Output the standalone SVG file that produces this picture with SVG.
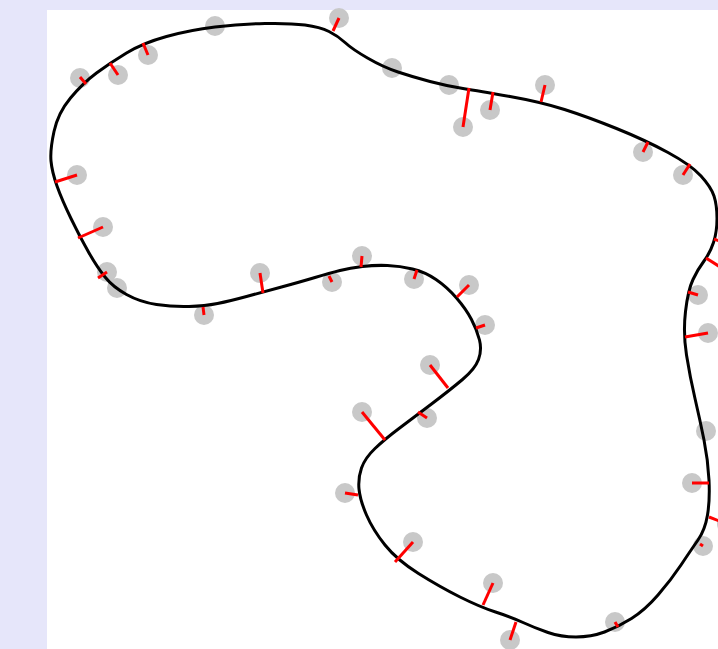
<svg xmlns="http://www.w3.org/2000/svg" width="718" height="649" viewBox="0 0 718 649">
<style>
.pt{fill:#c8c8c8;stroke:none}
.ln{stroke:#ff0000;stroke-width:3;stroke-linecap:butt;fill:none}
.curve{fill:none;stroke:#000;stroke-width:3;stroke-linejoin:round}
</style>
<defs><circle id="dot" r="10" class="pt"/></defs>
<rect width="718" height="649" fill="#e6e6fa"/>
<rect x="47" y="10" width="680" height="650" fill="#fff"/>
<g id="points">
<g id="p1"><use href="#dot" x="215" y="26"/></g>
<g id="p2"><use href="#dot" x="148" y="55"/></g>
<g id="p3"><use href="#dot" x="118" y="75"/></g>
<g id="p4"><use href="#dot" x="80" y="78"/></g>
<g id="p5"><use href="#dot" x="77" y="175"/></g>
<g id="p6"><use href="#dot" x="103" y="227"/></g>
<g id="p7"><use href="#dot" x="107" y="272"/></g>
<g id="p8"><use href="#dot" x="117" y="288"/></g>
<g id="p9"><use href="#dot" x="204" y="315"/></g>
<g id="p10"><use href="#dot" x="260" y="273"/></g>
<g id="p11"><use href="#dot" x="332" y="282"/></g>
<g id="p12"><use href="#dot" x="362" y="256"/></g>
<g id="p13"><use href="#dot" x="414" y="279"/></g>
<g id="p14"><use href="#dot" x="469" y="285"/></g>
<g id="p15"><use href="#dot" x="485" y="325"/></g>
<g id="p16"><use href="#dot" x="430" y="365"/></g>
<g id="p17"><use href="#dot" x="362" y="412"/></g>
<g id="p18"><use href="#dot" x="427" y="418"/></g>
<g id="p19"><use href="#dot" x="345" y="493"/></g>
<g id="p20"><use href="#dot" x="413" y="542"/></g>
<g id="p21"><use href="#dot" x="493" y="583"/></g>
<g id="p22"><use href="#dot" x="510" y="640"/></g>
<g id="p23"><use href="#dot" x="615" y="622"/></g>
<g id="p24"><use href="#dot" x="703" y="546"/></g>
<g id="p25"><use href="#dot" x="727" y="524"/></g>
<g id="p26"><use href="#dot" x="692" y="483"/></g>
<g id="p27"><use href="#dot" x="706" y="431"/></g>
<g id="p28"><use href="#dot" x="708" y="333"/></g>
<g id="p29"><use href="#dot" x="698" y="295"/></g>
<g id="p30"><use href="#dot" x="728" y="272"/></g>
<g id="p31"><use href="#dot" x="730" y="245"/></g>
<g id="p32"><use href="#dot" x="683" y="175"/></g>
<g id="p33"><use href="#dot" x="643" y="152"/></g>
<g id="p34"><use href="#dot" x="545" y="85"/></g>
<g id="p35"><use href="#dot" x="490" y="110"/></g>
<g id="p36"><use href="#dot" x="463" y="127"/></g>
<g id="p37"><use href="#dot" x="449" y="85"/></g>
<g id="p38"><use href="#dot" x="392" y="68"/></g>
<g id="p39"><use href="#dot" x="339" y="18"/></g>
</g>
<g id="shape">
<path class="curve" d="M54,131.5 Q58,113 70.5,98 Q83,83 96.5,73 Q110,63 126.5,53 Q143,43 166.5,36.5 Q190,30 215,27 Q240,24 265,23.5 Q290,23 305,25 Q320,27 329,31.5 Q338,36 345,42.5 Q352,49 367.5,58 Q383,67 398,72 Q413,77 430,81.5 Q447,86 463,88.5 Q479,91 510,96.5 Q541,102 564.5,109.5 Q588,117 616.5,128.5 Q645,140 668,152.5 Q691,165 701,176 Q711,187 714,196 Q717,205 717,218.5 Q717,232 713.5,242.5 Q710,253 704,261 Q698,269 693,279.5 Q688,290 685.5,311.5 Q683,333 686.5,355 Q690,377 695,398.5 Q700,420 704,440 Q708,460 709,480 Q710,500 707.5,515 Q705,530 698,540 Q691,550 681,565 Q671,580 658,595 Q645,610 631.5,618.5 Q618,627 604.5,632 Q591,637 576,637 Q561,637 548,632.5 Q535,628 523,622.5 Q511,617 495.5,612 Q480,607 460,597 Q440,587 418.5,573.5 Q397,560 385,545 Q373,530 366.5,515 Q360,500 359,489 Q358,478 361.5,468 Q365,458 375,448.5 Q385,439 399,428.5 Q413,418 431.5,404 Q450,390 462.5,379.5 Q475,369 478.5,359.5 Q482,350 479.5,340 Q477,330 471.5,319.5 Q466,309 456.5,298 Q447,287 436,279.5 Q425,272 412.5,269 Q400,266 387.5,265.5 Q375,265 362.5,266.5 Q350,268 340,270.5 Q330,273 315,277.5 Q300,282 281.5,287 Q263,292 246.5,296.5 Q230,301 217.5,303.5 Q205,306 189,306.5 Q173,307 156.5,304.5 Q140,302 126.5,294.5 Q113,287 105,277 Q97,267 88.5,252 Q80,237 71,218.5 Q62,200 57,186 Q52,172 51,161 Q50,150 54,131.5 Z"/>
</g>
<g id="connectors" class="ln">
<line x1="148" y1="55" x2="143" y2="43"/>
<line x1="118" y1="75" x2="110" y2="63"/>
<line x1="80" y1="77" x2="86" y2="84"/>
<line x1="77" y1="175" x2="55" y2="182"/>
<line x1="103" y1="227" x2="78" y2="238"/>
<line x1="107" y1="272" x2="98" y2="278"/>
<line x1="204" y1="315" x2="203" y2="307"/>
<line x1="260" y1="273" x2="263" y2="293"/>
<line x1="332" y1="282" x2="329" y2="276"/>
<line x1="362" y1="256" x2="361" y2="267"/>
<line x1="414" y1="279" x2="417" y2="270"/>
<line x1="469" y1="285" x2="457" y2="297"/>
<line x1="485" y1="325" x2="476" y2="328"/>
<line x1="430" y1="365" x2="448" y2="388"/>
<line x1="362" y1="412" x2="385" y2="440"/>
<line x1="427" y1="418" x2="418" y2="412"/>
<line x1="345" y1="493" x2="358" y2="495"/>
<line x1="413" y1="542" x2="395" y2="562"/>
<line x1="493" y1="583" x2="483" y2="605"/>
<line x1="510" y1="640" x2="516" y2="622"/>
<line x1="615" y1="622" x2="618" y2="627"/>
<line x1="703" y1="546" x2="700" y2="544"/>
<line x1="727" y1="524" x2="709" y2="517"/>
<line x1="692" y1="483" x2="709" y2="483"/>
<line x1="708" y1="333" x2="685" y2="337"/>
<line x1="698" y1="295" x2="688" y2="292"/>
<line x1="728" y1="272" x2="706" y2="258"/>
<line x1="730" y1="245" x2="714" y2="239"/>
<line x1="683" y1="175" x2="690" y2="164"/>
<line x1="643" y1="152" x2="648" y2="142"/>
<line x1="545" y1="85" x2="541" y2="102"/>
<line x1="490" y1="110" x2="493" y2="92"/>
<line x1="463" y1="127" x2="469" y2="88"/>
<line x1="339" y1="18" x2="333" y2="31"/>
</g>
</svg>
